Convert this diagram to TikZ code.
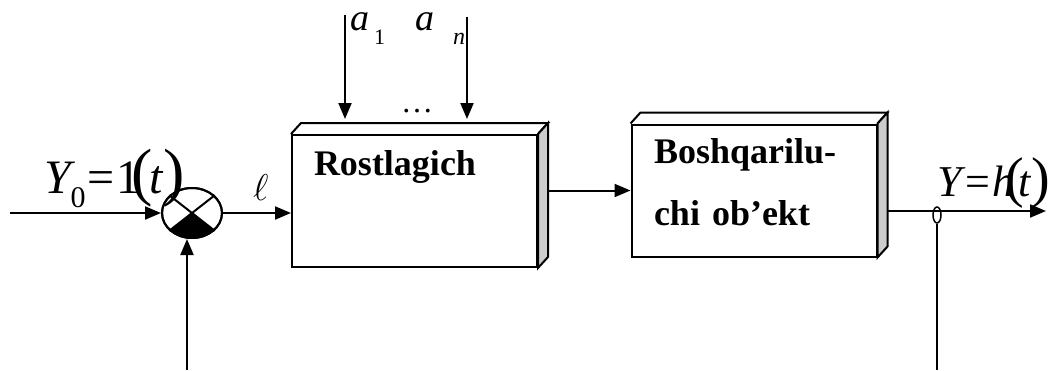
\documentclass[tikz,border=0pt]{standalone}
\usepackage{fontspec}
\setmainfont{Liberation Serif}
\usetikzlibrary{arrows.meta,shapes.geometric,calc}
\begin{document}
\begin{tikzpicture}[x=1pt,y=-1pt, line width=2pt,
  arr/.style={-{Triangle[length=16pt,width=13pt]}},
  blk/.style={draw, minimum width=245pt, minimum height=132pt, inner sep=0pt},
  side/.style={fill=black!20, line join=miter},
  lbl/.style={inner sep=0pt, anchor=base west},
  btxt/.style={inner sep=0pt, anchor=base west, font=\fontsize{36}{40}\selectfont\bfseries}
]
\useasboundingbox (0,0) rectangle (1052,370);

% blocks
\node[blk] (R) at (414.5,201) {};
\node[blk] (B) at (754,190.5) {};
\foreach \n in {R,B}{
  \draw (\n.north west) -- ++(10,-11) -- ($(\n.north east)+(10,-11)$) -- (\n.north east);
  \draw[side] (\n.north east) -- ++(10,-11) -- ($(\n.south east)+(10,-11)$) -- (\n.south east) -- cycle;
}
\node[btxt] (tR) at (313,175) {Rostlagich};
\node[btxt] (tB1) at (653,163) {Boshqarilu-};
\node[btxt] (tB2) at (653,225) {chi\kern3pt{} ob’ekt};

% summing junction
\node[draw, ellipse, minimum width=60pt, minimum height=50pt, inner sep=0pt] (S) at (192,213) {};
\begin{scope}
  \clip (192,213) ellipse [x radius=30, y radius=25];
  \fill (192,213) -- (252,260) -- (132,260) -- cycle;
\end{scope}
\draw (S.142) -- (S.-38);
\draw (S.38) -- (S.218);
\draw (S.center) ellipse [x radius=30, y radius=25];

% connectors
\coordinate (in) at (10,213);
\draw[arr] (in) -- (S.west);
\coordinate (fb) at (187,370);
\draw[arr] (fb) -- (fb |- S.south);
\draw[arr] (S.east) -- (S.east -| R.west);
\draw[arr] ($(B.west -| R.east)+(10,0)$) -- (B.west);

\coordinate (a1s) at (345,15);
\coordinate (a1e) at (345,119);
\coordinate (ans) at (467,17);
\coordinate (ane) at (467,119);
\draw[arr] (a1s) -- (a1e);
\draw[arr] (ans) -- (ane);

\coordinate (oS) at ($(B.east)+(10,20.5)$);
\coordinate (out) at (1046,211);
\draw[arr] (oS) -- (out);
\node[draw, ellipse, minimum width=8pt, minimum height=16pt, inner sep=0pt, line width=1.5pt] (o) at (937,215) {};
\coordinate (ofb) at (937,370);
\draw (o.south) -- (ofb);

% labels
\node[lbl] (la1) at (349,30) {\fontsize{38}{38}\selectfont\itshape a};
\node[lbl] (l1) at (373,44) {\fontsize{22}{22}\selectfont 1};
\node[lbl] (lan) at (414,30) {\fontsize{38}{38}\selectfont\itshape a};
\node[lbl] (ln) at (452,44) {\fontsize{24}{24}\selectfont\itshape n};
\node[lbl] (dots) at (400,112) {\fontsize{32}{32}\selectfont …};
\node[lbl] (ell) at (252,200) {\fontsize{24}{24}\selectfont\scalebox{1.5}{$\ell$}};

\node[lbl] (y0) at (43,193) {{\fontsize{48}{48}\selectfont\itshape Y}\raisebox{-14pt}{\fontsize{30}{30}\selectfont 0}\kern2pt{\fontsize{48}{48}\selectfont =\kern2pt 1}\kern-9pt{\fontsize{64}{64}\selectfont (}\kern-4pt{\fontsize{48}{48}\selectfont\itshape t}\kern1pt{\fontsize{64}{64}\selectfont )}};

\node[lbl] (yh) at (936,196) {{\fontsize{44}{44}\selectfont\itshape Y}\kern4pt{\fontsize{44}{44}\selectfont =\kern2pt\itshape h}\kern-9pt{\fontsize{56}{56}\selectfont (}\kern-5pt{\fontsize{44}{44}\selectfont\itshape t}{\fontsize{56}{56}\selectfont )}};
\end{tikzpicture}
\end{document}
